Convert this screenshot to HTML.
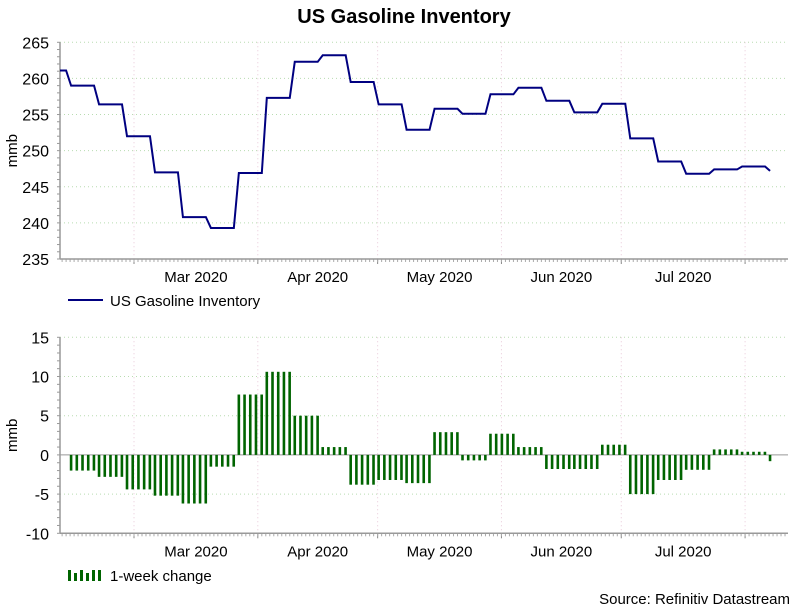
<!DOCTYPE html>
<html><head><meta charset="utf-8"><style>
body{margin:0;background:#fff;}
svg{display:block;font-family:"Liberation Sans",sans-serif;}
</style></head><body>
<svg id="c" width="808" height="607" viewBox="0 0 808 607">
<text x="404" y="23" text-anchor="middle" font-size="20" font-weight="bold" fill="#000">US Gasoline Inventory</text>
<g id="top"></g>
<g id="bot"></g>
<g>
<line x1="68" y1="300" x2="103" y2="300" stroke="#000080" stroke-width="2"/>
<text x="110" y="306" font-size="15" fill="#000">US Gasoline Inventory</text>
</g>
<g>
<rect x="68" y="570" width="3" height="11" fill="#006400"/><rect x="74" y="573" width="3" height="8" fill="#006400"/><rect x="80" y="570" width="3" height="11" fill="#006400"/><rect x="86" y="573" width="3" height="8" fill="#006400"/><rect x="92" y="570" width="3" height="11" fill="#006400"/><rect x="98" y="570" width="3" height="11" fill="#006400"/>
<text x="110" y="581" font-size="15" fill="#000">1-week change</text>
</g>
<text x="790" y="604" text-anchor="end" font-size="15" fill="#000">Source: Refinitiv Datastream</text>
</svg>
<script>
const releaseDates=["2020-02-13","2020-02-20","2020-02-27","2020-03-05","2020-03-12","2020-03-19","2020-03-26","2020-04-02","2020-04-09","2020-04-16","2020-04-23","2020-04-30","2020-05-07","2020-05-14","2020-05-21","2020-05-28","2020-06-04","2020-06-11","2020-06-18","2020-06-25","2020-07-02","2020-07-09","2020-07-16","2020-07-23","2020-07-30","2020-08-06"];
const startInventory=261.1;
const inventory=[259.0,256.4,252.0,247.0,240.8,239.3,246.9,257.3,262.3,263.2,259.5,256.4,252.9,255.8,255.1,257.8,258.7,256.9,255.3,256.5,251.7,248.5,246.8,247.4,247.8,247.2];
const changes=[-2.0,-2.8,-4.4,-5.2,-6.2,-1.5,7.7,10.6,5.0,1.0,-3.8,-3.2,-3.6,2.9,-0.7,2.7,1.0,-1.8,-1.8,1.3,-5.0,-3.2,-1.9,0.7,0.4,-0.8];
const topTicks=[235,240,245,250,255,260,265];
const botTicks=[-10,-5,0,5,10,15];
const monthStarts=["2020-03-01","2020-04-01","2020-05-01","2020-06-01","2020-07-01","2020-08-01"];
const monthLabels=["Mar 2020","Apr 2020","May 2020","Jun 2020","Jul 2020"];

const NS="http://www.w3.org/2000/svg";
const X0=60,X1=788;
const mar1=Date.UTC(2020,2,1);
function days(s){const p=s.split("-");return (Date.UTC(+p[0],p[1]-1,+p[2])-mar1)/864e5;}
function xs(d){return 134+d*3.994;}
function yT(v){return 42.3+(265-v)*(216.7/30);}
function yB(v){return 337.3+(15-v)*(196/25);}
function mk(par,tag,at){const e=document.createElementNS(NS,tag);for(const k in at)e.setAttribute(k,at[k]);par.appendChild(e);return e;}
const gTop=document.getElementById('top'),gBot=document.getElementById('bot');

function panel(g,ticks,yf,yName){
  const yb=yf(ticks[0]),yt=yf(ticks[ticks.length-1]);
  ticks.forEach(t=>{
    const y=yf(t);
    if(t!==ticks[0]){const isZero=(t===0&&yName==='b');
      const l=mk(g,'line',{x1:X0,x2:X1,y1:y,y2:y,stroke:isZero?'#999':'#b8dcb0','stroke-width':1,'stroke-dasharray':isZero?'none':'1,3'});
      
      }
    const tx=mk(g,'text',{x:49,y:y+6,'text-anchor':'end','font-size':16,fill:'#000'});
    tx.textContent=t;
    
    
  });
  const step=(ticks[1]-ticks[0])/5;
  for(let v=ticks[0];v<=ticks[ticks.length-1]+1e-6;v+=step){mk(g,'line',{x1:X0-3,x2:X0,y1:yf(v),y2:yf(v),stroke:'#999'});}
  monthStarts.forEach(m=>{const x=xs(days(m));
    const l=mk(g,'line',{x1:x,x2:x,y1:yt,y2:yb,stroke:'#e8c8d8','stroke-dasharray':'1,3'});
    
    
    mk(g,'line',{x1:x,x2:x,y1:yb,y2:yb+5,stroke:'#888'});});
  for(let d=-18;d<=163;d++){const x=xs(d);if(x<X0||x>X1)continue;mk(g,'line',{x1:x,x2:x,y1:yb,y2:yb+3,stroke:'#aaa'});}
  monthLabels.forEach((m,i)=>{const x=(xs(days(monthStarts[i]))+xs(days(monthStarts[i+1])))/2;
    const t=mk(g,'text',{x:x,y:yb+23,'text-anchor':'middle','font-size':15,fill:'#000'});t.textContent=m;
    
    });
  const ax=mk(g,'line',{x1:X0,x2:X0,y1:yt,y2:yb,stroke:'#999','stroke-width':1.5});
  
  
  const bx=mk(g,'line',{x1:X0,x2:X1,y1:yb,y2:yb,stroke:'#999','stroke-width':1.5});
  
  
  const yl=mk(g,'text',{x:0,y:0,'font-size':15,'text-anchor':'middle',transform:`translate(17,${(yt+yb)/2}) rotate(-90)`});yl.textContent='mmb';
  
  
}
panel(gTop,topTicks,yT,'t');
panel(gBot,botTicks,yB,'b');

let pts=[[X0,yT(startInventory)]];
let prev=startInventory;
releaseDates.forEach((d,i)=>{const x=xs(days(d));pts.push([x,yT(prev)]);pts.push([x+5,yT(inventory[i])]);prev=inventory[i];});
const lastX=xs(days(releaseDates[releaseDates.length-1]))+5;
const path=mk(gTop,'polyline',{points:pts.map(p=>p.join(',')).join(' '),fill:'none',stroke:'#000080','stroke-width':2});



const z=yB(0);
changes.forEach((c,i)=>{const d0=days(releaseDates[i]);
  for(let j=0;j<5;j++){const x=xs(d0+1.25+j*1.43);if(x>lastX+2)break;
    const y=yB(c);
    const r=mk(gBot,'rect',{x:x-1.3,y:Math.min(y,z),width:2.6,height:Math.max(1,Math.abs(y-z)),fill:'#006400'});
    
    }
});
</script>
</body></html>
